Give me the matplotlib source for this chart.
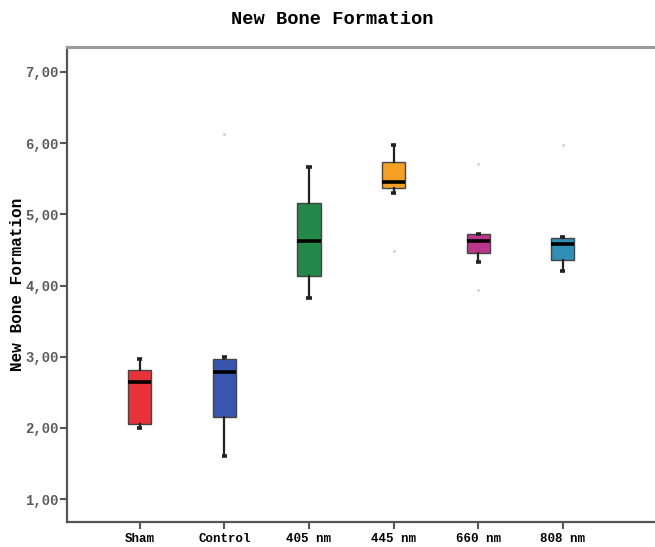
import matplotlib
matplotlib.use("Agg")
import matplotlib.pyplot as plt

categories = ["Sham", "Control", "405 nm", "445 nm", "660 nm", "808 nm"]
whisker_low = [2.00, 1.60, 3.83, 5.30, 4.33, 4.21]
q1 = [2.06, 2.16, 4.13, 5.37, 4.46, 4.36]
median = [2.64, 2.79, 4.63, 5.46, 4.63, 4.59]
q3 = [2.81, 2.97, 5.155, 5.73, 4.72, 4.67]
whisker_high = [2.97, 2.99, 5.66, 5.98, 4.73, 4.68]
outliers = [[], [6.13], [], [4.49], [5.71, 3.94], [5.98]]
colors = ["#e8323a", "#3a55b0", "#23884a", "#f59f25", "#b9368b", "#2f8fb5"]
yticks = [1, 2, 3, 4, 5, 6, 7]
ytick_labels = ["1,00", "2,00", "3,00", "4,00", "5,00", "6,00", "7,00"]

mono = "Liberation Mono"

fig = plt.figure(figsize=(6.55, 5.47), dpi=100)
ax = fig.add_axes([67/655, 1-522/547, 1-67/655 + 0.01, (522-47)/547])

stats = []
for i in range(len(categories)):
    stats.append(dict(med=median[i], q1=q1[i], q3=q3[i],
                      whislo=whisker_low[i], whishi=whisker_high[i],
                      fliers=[], label=categories[i]))

bp = ax.bxp(stats, positions=range(len(categories)), widths=0.275,
            patch_artist=True, showfliers=False,
            boxprops=dict(edgecolor="#444444", linewidth=1.0),
            medianprops=dict(color="black", linewidth=2.6, solid_capstyle="butt"),
            whiskerprops=dict(color="#222222", linewidth=1.6),
            capprops=dict(color="#222222", linewidth=2.6, solid_capstyle="butt"),
            capwidths=0.06)
for patch, c in zip(bp["boxes"], colors):
    patch.set_facecolor(c)

for i, outs in enumerate(outliers):
    if outs:
        ax.plot([i]*len(outs), outs, linestyle="none", marker="o",
                markersize=2.2, markerfacecolor="#d4d4d4", markeredgecolor="none")

ax.set_xlim(-0.86, 6.09 + 0.01*655/84.6)
ax.set_ylim(0.68, 7.35)
ax.set_yticks(yticks)
ax.set_yticklabels(ytick_labels, fontfamily=mono, fontweight="bold",
                   fontsize=10, color="#5a5a5a")
ax.set_xticks(range(len(categories)))
ax.set_xticklabels(categories, fontfamily=mono, fontweight="bold",
                   fontsize=9, color="black")
ax.tick_params(axis="both", direction="out", length=5, width=1.5, color="#555555")
ax.tick_params(axis="y", pad=1)
ax.tick_params(axis="x", pad=3)

ax.spines["right"].set_visible(False)
ax.spines["top"].set_color("#9a9a9a")
ax.spines["top"].set_linewidth(2.2)
ax.spines["left"].set_color("#555555")
ax.spines["left"].set_linewidth(1.6)
ax.spines["bottom"].set_color("#555555")
ax.spines["bottom"].set_linewidth(1.6)

ax.set_ylabel("New Bone Formation", fontfamily=mono, fontweight="bold",
              fontsize=11.5, color="black", labelpad=0)
fig.text(332/655, 1-20/547, "New Bone Formation", fontfamily=mono,
         fontweight="bold", fontsize=13.5, ha="center", va="center")

fig.savefig("out.png", dpi=100)
